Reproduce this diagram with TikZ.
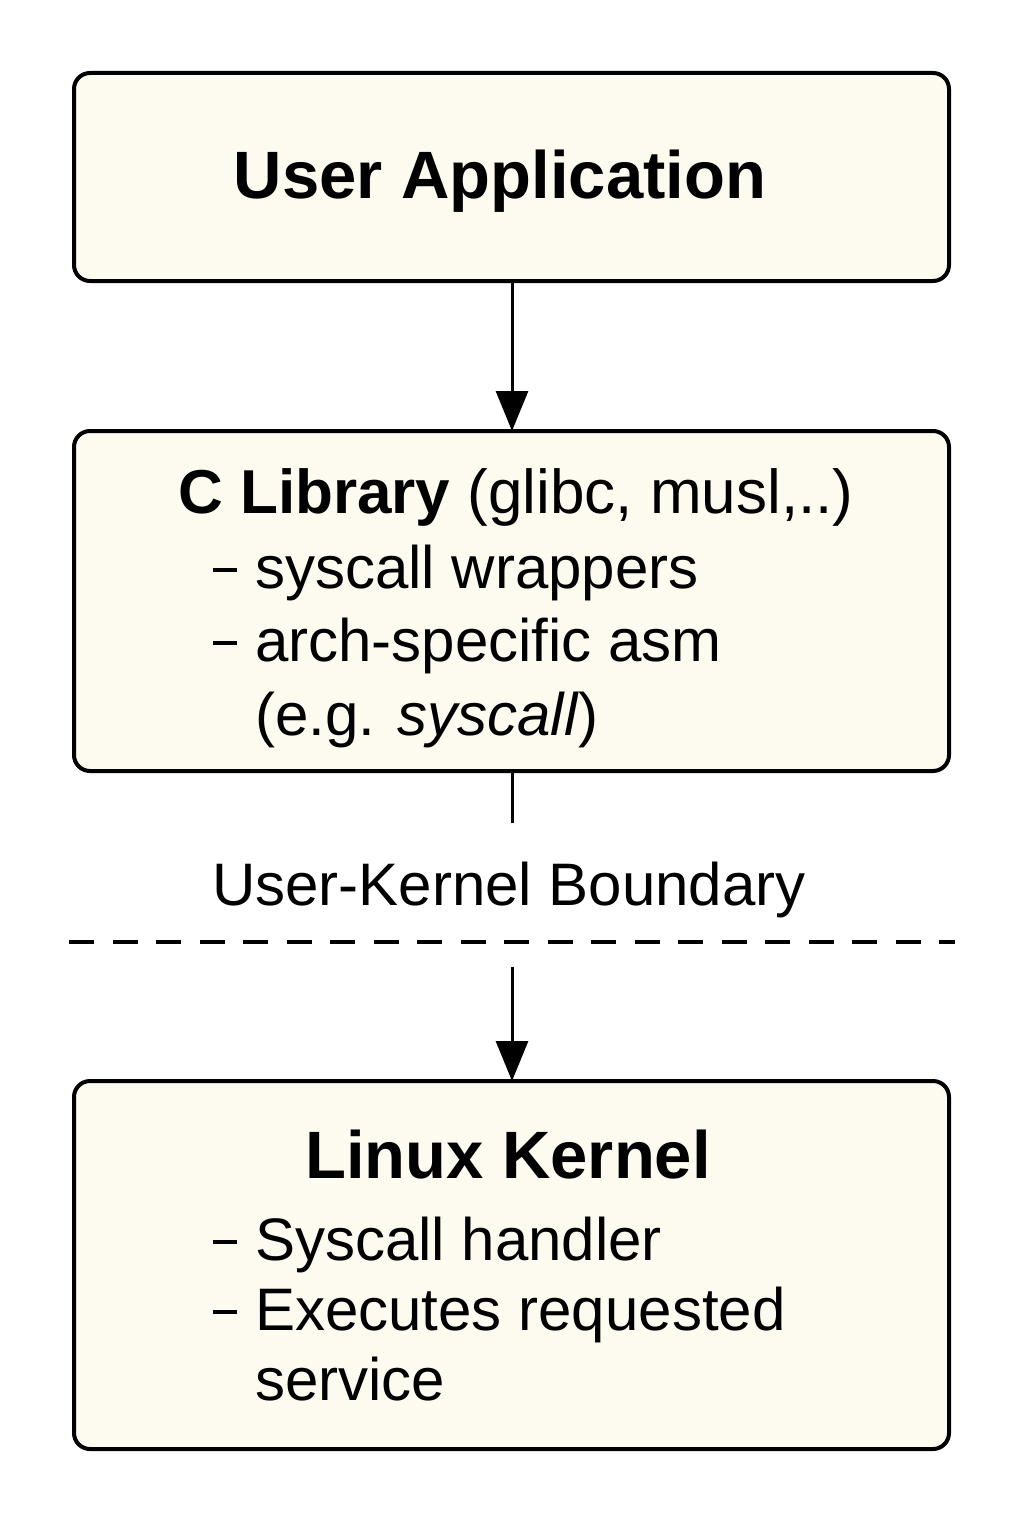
\documentclass[tikz,border=0pt]{standalone}
\usepackage{fontspec}
\setmainfont{Liberation Sans}
\usetikzlibrary{arrows.meta}
\definecolor{boxfill}{HTML}{FDFAF0}
\newcommand{\itemdash}{\makebox[42pt][l]{\rule[16pt]{24pt}{4pt}}}
\tikzset{
  layer/.style={draw=black, line width=4pt, fill=boxfill, rounded corners=16pt},
  flow/.style={line width=3pt, -{Triangle[length=40pt,width=32pt]}},
  titletext/.style={font=\fontsize{67}{80}\selectfont\bfseries, inner sep=0pt, anchor=base},
  bodytext/.style={font=\fontsize{60}{72}\selectfont, inner sep=0pt, anchor=base west},
}
\begin{document}
\begin{tikzpicture}[x=1pt,y=-1pt]
\useasboundingbox[fill=white] (0,0) rectangle (1024,1536);
% boxes
\draw[layer] (74,73) rectangle (949,281);
\draw[layer] (74,431) rectangle (949,771);
\draw[layer] (74,1081) rectangle (949,1449);
\coordinate (b1s) at (512,283);
\coordinate (b2n) at (512,431);
\coordinate (b2s) at (512,773);
\coordinate (lineend) at (512,823);
\coordinate (arrstart) at (512,967);
\coordinate (b3n) at (512,1081);
\coordinate (dl) at (69,942);
\coordinate (dr) at (955,942);
% texts
\node[titletext] (ua) at (500,198) {User Application};
\node[bodytext, font=\fontsize{62}{72}\selectfont] (cl) at (178,513) {\textbf{C Library} (glibc, musl,..)};
\node[bodytext] (c1) at (213,588) {\itemdash syscall wrappers};
\node[bodytext] (c2) at (213,661) {\itemdash arch-specific asm};
\node[bodytext] (c3) at (255,735) {(e.g. \textit{syscall})};
\node[font=\fontsize{60}{72}\selectfont, inner sep=0pt, anchor=base] (ukb) at (509,905) {User-Kernel Boundary};
\node[titletext] (lk) at (508,1178) {Linux Kernel};
\node[bodytext] (k1) at (213,1260) {\itemdash Syscall handler};
\node[bodytext] (k2) at (213,1330) {\itemdash Executes requested};
\node[bodytext] (k3) at (255,1400) {service};
% connectors
\draw[flow] (b1s) -- (b2n);
\draw[line width=3pt] (b2s) -- (lineend);
\draw[line width=4pt, dash pattern=on 25pt off 18.5pt] (dl) -- (dr);
\draw[flow] (arrstart) -- (b3n);
\end{tikzpicture}
\end{document}
